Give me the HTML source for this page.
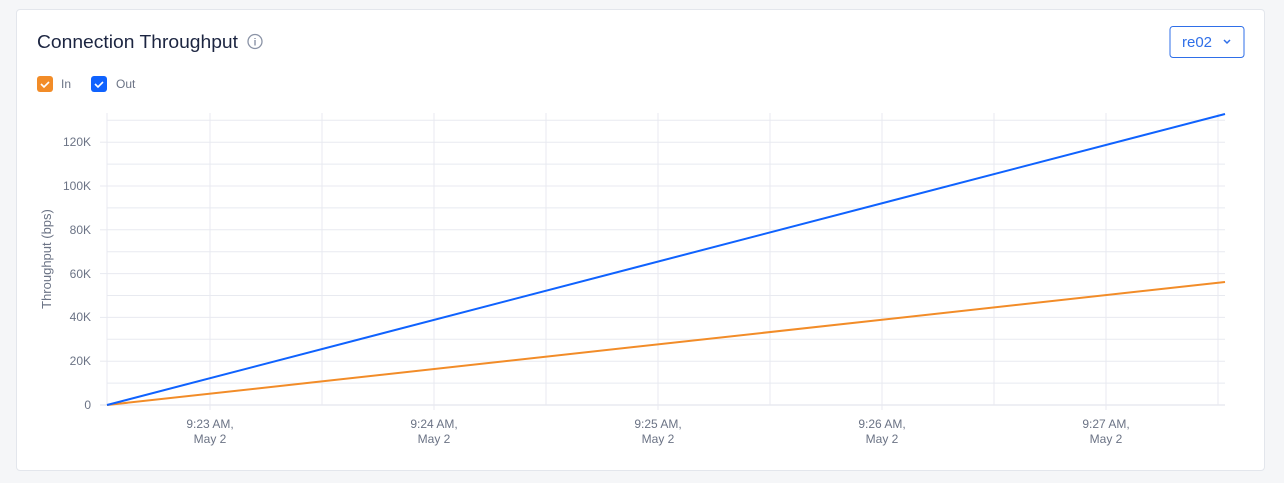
<!DOCTYPE html>
<html><head><style>
body{margin:0;width:1284px;height:483px;background:#f5f6f8;font-family:"Liberation Sans",sans-serif;position:relative;overflow:hidden}
.card{position:absolute;left:16px;top:9px;width:1249px;height:462px;background:#fff;border:1px solid #e3e6ec;border-radius:4px;box-sizing:border-box}
</style></head><body>
<div class="card"></div>
<svg width="1284" height="483" style="position:absolute;left:0;top:0" font-family="Liberation Sans, sans-serif">
<text x="37" y="48" font-size="18.5" fill="#1c2541" textLength="201" lengthAdjust="spacingAndGlyphs">Connection Throughput</text>
<circle cx="255" cy="41.5" r="7" fill="none" stroke="#8a93a6" stroke-width="1.3"/>
<text x="255" y="45.5" font-size="10" fill="#8a93a6" text-anchor="middle" font-weight="bold">i</text>
<rect x="1170" y="26.5" width="74" height="31" rx="3" fill="#fff" stroke="#2f6fe8"/>
<text x="1182" y="47" font-size="15" fill="#2f6fe8">re02</text>
<path d="M1224 40l3 3l3-3" stroke="#2f6fe8" stroke-width="1.5" fill="none"/>
<rect x="37" y="76" width="16" height="16" rx="3" fill="#f28c28"/>
<path d="M41 84l3 3l5-5" stroke="#fff" stroke-width="1.6" fill="none"/>
<text x="61" y="88" font-size="12" fill="#6b7385">In</text>
<rect x="91" y="76" width="16" height="16" rx="3" fill="#0f62fe"/>
<path d="M95 84l3 3l5-5" stroke="#fff" stroke-width="1.6" fill="none"/>
<text x="116" y="88" font-size="12" fill="#6b7385">Out</text>
<g stroke="#e8eaf0" stroke-width="1">
<line x1="107" y1="383.1" x2="1225" y2="383.1"/><line x1="107" y1="361.2" x2="1225" y2="361.2"/><line x1="107" y1="339.3" x2="1225" y2="339.3"/><line x1="107" y1="317.4" x2="1225" y2="317.4"/><line x1="107" y1="295.5" x2="1225" y2="295.5"/><line x1="107" y1="273.6" x2="1225" y2="273.6"/><line x1="107" y1="251.7" x2="1225" y2="251.7"/><line x1="107" y1="229.8" x2="1225" y2="229.8"/><line x1="107" y1="207.9" x2="1225" y2="207.9"/><line x1="107" y1="186" x2="1225" y2="186"/><line x1="107" y1="164.1" x2="1225" y2="164.1"/><line x1="107" y1="142.2" x2="1225" y2="142.2"/><line x1="107" y1="120.3" x2="1225" y2="120.3"/>
<line x1="107" y1="113" x2="107" y2="405"/><line x1="210" y1="113" x2="210" y2="410"/><line x1="322" y1="113" x2="322" y2="405"/><line x1="434" y1="113" x2="434" y2="410"/><line x1="546" y1="113" x2="546" y2="405"/><line x1="658" y1="113" x2="658" y2="410"/><line x1="770" y1="113" x2="770" y2="405"/><line x1="882" y1="113" x2="882" y2="410"/><line x1="994" y1="113" x2="994" y2="405"/><line x1="1106" y1="113" x2="1106" y2="410"/><line x1="1218" y1="113" x2="1218" y2="405"/>
<line x1="100" y1="405" x2="1225" y2="405" stroke-width="1.5"/>
<line x1="100" y1="361.2" x2="107" y2="361.2"/><line x1="100" y1="317.4" x2="107" y2="317.4"/><line x1="100" y1="273.6" x2="107" y2="273.6"/><line x1="100" y1="229.8" x2="107" y2="229.8"/><line x1="100" y1="186" x2="107" y2="186"/><line x1="100" y1="142.2" x2="107" y2="142.2"/>
</g>
<g font-size="12" fill="#6b7385" text-anchor="end">
<text x="91" y="409">0</text><text x="91" y="365">20K</text><text x="91" y="321">40K</text><text x="91" y="278">60K</text><text x="91" y="234">80K</text><text x="91" y="190">100K</text><text x="91" y="146">120K</text>
</g>
<text transform="translate(51,259) rotate(-90)" font-size="13" fill="#6b7385" text-anchor="middle">Throughput (bps)</text>
<g font-size="12" fill="#6b7385" text-anchor="middle">
<text x="210" y="428">9:23 AM,</text><text x="210" y="443">May 2</text>
<text x="434" y="428">9:24 AM,</text><text x="434" y="443">May 2</text>
<text x="658" y="428">9:25 AM,</text><text x="658" y="443">May 2</text>
<text x="882" y="428">9:26 AM,</text><text x="882" y="443">May 2</text>
<text x="1106" y="428">9:27 AM,</text><text x="1106" y="443">May 2</text>
</g>
<line x1="107" y1="405" x2="1225" y2="282" stroke="#f28c28" stroke-width="2"/>
<line x1="107" y1="405" x2="1225" y2="114" stroke="#0f62fe" stroke-width="2"/>
</svg>
</body></html>
